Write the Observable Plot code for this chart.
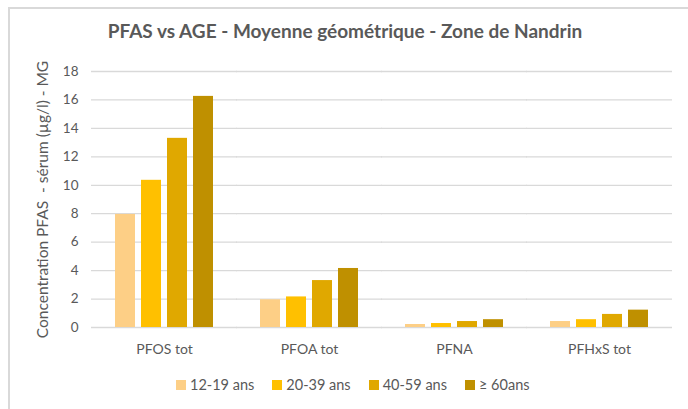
<!DOCTYPE html>
<html><head><meta charset="utf-8">
<script src="https://cdn.jsdelivr.net/npm/d3@7"></script>
<script src="https://cdn.jsdelivr.net/npm/@observablehq/plot@0.6"></script>
<style>
body{margin:0;background:#fff;font-family:Lato,"Open Sans",sans-serif;width:688px;height:409px;overflow:hidden;position:relative;}
#frame{position:absolute;left:8px;top:7px;width:700px;height:420px;border-left:2px solid #d9d9d9;border-top:2px solid #d9d9d9;}
#title{position:absolute;top:19px;left:0;width:690px;text-align:center;font-weight:bold;font-size:19px;color:#595959;white-space:nowrap;}
#chart{position:absolute;left:0;top:50px;}
#legend{position:absolute;left:176px;top:376px;display:flex;align-items:center;font-size:14.5px;color:#595959;white-space:nowrap;}
#legend .item{display:flex;align-items:center;margin-right:18px;}
#legend .sw{width:10px;height:10px;margin-right:4px;}
</style></head>
<body>
<div id="frame"></div>
<div id="title">PFAS vs AGE - Moyenne géométrique - Zone de Nandrin</div>
<div id="chart"></div>
<div id="legend"></div>
<script>
const categories = ["PFOS tot", "PFOA tot", "PFNA", "PFHxS tot"];
const ageGroups = ["12-19 ans", "20-39 ans", "40-59 ans", "≥ 60ans"];
const values_12_19 = [7.95, 1.95, 0.21, 0.42];
const values_20_39 = [10.35, 2.15, 0.28, 0.55];
const values_40_59 = [13.3, 3.3, 0.42, 0.92];
const values_60plus = [16.25, 4.15, 0.55, 1.22];
const yTicks = [0, 2, 4, 6, 8, 10, 12, 14, 16, 18];
const colors = ["#fdcf86", "#ffc000", "#e0a800", "#bf9000"];
const yLabel = "Concentration PFAS  - sérum (µg/l) - MG";

const series = [values_12_19, values_20_39, values_40_59, values_60plus];
const data = [];
categories.forEach((c, i) => ageGroups.forEach((a, j) => data.push({category: c, age: a, value: series[j][i]})));

const plot = Plot.plot({
  width: 688,
  height: 310,
  marginLeft: 90,
  marginRight: 15,
  marginTop: 21,
  marginBottom: 33,
  style: {fontFamily: "Lato, 'Open Sans', sans-serif", color: "#595959", background: "transparent"},
  fx: {domain: categories, paddingInner: 0.31, paddingOuter: 0.155, label: null},
  x: {domain: ageGroups, paddingInner: 0.2125, paddingOuter: 0, axis: null},
  y: {domain: [0, 18], ticks: yTicks, label: null},
  color: {domain: ageGroups, range: colors},
  marks: [
    Plot.ruleY(yTicks, {stroke: "#d9d9d9", strokeWidth: 1.3, insetLeft: -23, insetRight: -23}),
    Plot.barY(data, {fx: "category", x: "age", y: "value", fill: "age"}),
    Plot.axisY(yTicks, {tickSize: 0, tickPadding: 36, fontSize: 13.5, label: null, tickFormat: d => String(d)}),
    Plot.axisY([], {label: yLabel, labelAnchor: "center", labelArrow: "none", labelOffset: 78, fontSize: 15.5, tickSize: 0}),
    Plot.axisFx({anchor: "bottom", tickSize: 0, tickPadding: 17, fontSize: 14, label: null})
  ]
});
document.getElementById("chart").appendChild(plot);

const legend = document.getElementById("legend");
ageGroups.forEach((a, j) => {
  const item = document.createElement("div");
  item.className = "item";
  const sw = document.createElement("div");
  sw.className = "sw";
  sw.style.background = colors[j];
  const t = document.createElement("span");
  t.textContent = a;
  item.appendChild(sw); item.appendChild(t);
  legend.appendChild(item);
});
</script>
</body></html>
